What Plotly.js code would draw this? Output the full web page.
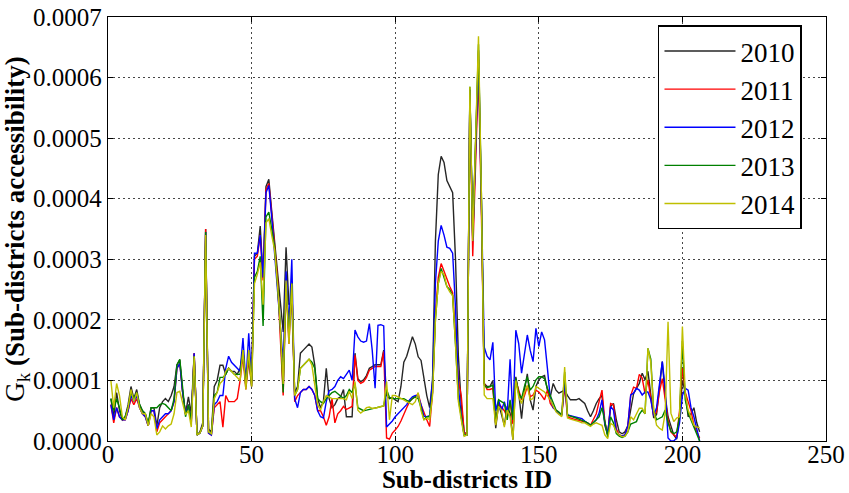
<!DOCTYPE html>
<html>
<head>
<meta charset="utf-8">
<script src="https://cdn.plot.ly/plotly-3.0.1.min.js"></script>
<style>
html,body{margin:0;padding:0;background:#fff;}
#chart{width:849px;height:493px;}
</style>
</head>
<body>
<div id="chart"></div>
<script>
// Sub-district IDs 1..206
const subDistrictIds = Array.from({length: 206}, (_, i) => i + 1);

// Values in units of 1e-5
const g2010 = [
  7, 4, 8, 5, 3.5, 4, 6, 9, 7, 8.5,
  6, 5, 4.5, 2.5, 5.5, 5.5, 2.5, 5.5, 6.5, 7,
  6.5, 7.5, 9, 12.6, 13.4, 8, 4.5, 7.3, 4.5, 14.5,
  1, 1.5, 3, 35, 2, 1.5, 9, 10, 12.5, 12.5,
  11, 12, 11.5, 11.5, 11, 12, 15, 9, 14, 9.5,
  30.5, 31, 35.5, 27, 42, 43.2, 38, 33, 29, 24,
  18, 32, 22.5, 23, 8, 9, 14.5, 15, 15.5, 16,
  15.5, 12.5, 7, 5.5, 6.5, 12, 7, 5.5, 6, 7,
  7.3, 8.5, 4, 4, 4, 14.5, 10.3, 9.8, 10.1, 10.8,
  12, 12.3, 12.6, 12.6, 12.6, 15, 7.5, 7, 7.2, 6.8,
  6.5, 9, 13, 14, 15.5, 17.2, 16, 13.9, 13.3, 10,
  7.5, 5.5, 10, 33, 44, 47, 46, 43, 42, 41,
  30, 14, 6, 1.5, 1, 58, 33.5, 50, 64.5, 40,
  9.5, 9, 9, 10, 2.1, 6.2, 4.3, 2.6, 5.7, 4.6,
  0.2, 10.6, 7.9, 3.7, 8.4, 11.1, 6.8, 5.1, 9, 10.1,
  10.6, 10.8, 8.4, 7.3, 9.5, 8.4, 7.9, 8.1, 8.4, 7.5,
  6.8, 6.8, 6.8, 7, 6.6, 6.2, 5, 4, 5, 6.2,
  7, 7.5, 2.6, 1, 5.7, 6.2, 3.5, 1.5, 1.2, 1.5,
  2.5, 5, 7.8, 8.7, 9.5, 11.2, 10.1, 11.5, 7.8, 3.8,
  4.4, 8.7, 13.1, 7.5, 4, 2.5, 1, 0.3, 4, 10,
  8, 4, 4.5, 5.5, 3, 1.5
];
const g2011 = [
  6, 3, 5.5, 4, 3.5, 3.5, 5, 7, 6, 7,
  5.5, 4.5, 4, 2.5, 5, 5, 1.5, 3, 3.5, 4,
  4.5, 5, 6.5, 12, 12.8, 8, 4.5, 6, 3, 14.5,
  1, 1.3, 2.5, 35, 1.3, 1, 5.5, 6, 6.5, 2.3,
  7.5, 6.5, 6.5, 6.5, 7, 10, 14, 8.5, 13.5, 9,
  30, 30.5, 34, 26.5, 41.5, 42.5, 37.5, 32, 27, 17,
  7.5, 26, 16, 26, 6.5, 7.5, 8, 8.5, 8.5, 9,
  8.5, 7.5, 5, 5, 4, 2.6, 4, 7, 3, 4.5,
  5, 5.7, 5.2, 5.5, 5.7, 14.2, 10, 9.5, 9.8, 10.5,
  11.7, 12, 12.3, 12.3, 12.3, 14.8, 0.5, 0.3, 1.3, 1.8,
  2.4, 3.3, 4.5, 5.5, 6.5, 7, 7.3, 7.8, 6, 4.6,
  3.5, 2.4, 8, 21, 27, 29.3, 28, 26.5, 25.5, 24.5,
  17, 10, 7.5, 1.5, 1, 57.5, 30.5, 47, 61, 38,
  9.5, 8.5, 8.5, 8.7, 2.8, 6.2, 5.5, 5, 4, 6.5,
  2.8, 10, 8.4, 6.8, 7.5, 9, 7.3, 7.6, 8.4, 8.1,
  7.5, 6.8, 8.4, 6.2, 5.5, 5.1, 4.6, 4.3, 9, 4,
  3.8, 3.6, 3.5, 3.4, 3.3, 3.2, 3, 2.6, 3.5, 4.5,
  6.5, 8.4, 3.2, 1, 6.2, 6, 2, 1, 0.8, 1,
  2.5, 7.5, 8.9, 8.7, 11, 10.4, 7.8, 10.1, 7, 4.2,
  4.8, 8.1, 10.3, 7, 3.5, 1.5, 1, 0.7, 5, 12,
  8, 6.5, 5, 2.6, 1.5, 0.5
];
const g2012 = [
  6, 3.5, 5.5, 4, 3.5, 3.5, 5, 7.5, 6.5, 7.5,
  5.5, 4.5, 4, 2.5, 5, 5, 2, 3.5, 4, 4.5,
  4.5, 5, 6.5, 12, 12.8, 8, 4.5, 6, 3, 14.5,
  1, 1.3, 2.5, 34.5, 1.3, 1, 6, 6.5, 7.5, 7.5,
  12, 14, 13, 12.5, 12, 11.5, 17, 9.5, 17.8, 10,
  31, 31, 34, 27, 41, 42.2, 37, 31, 25, 18,
  13, 28, 19, 30, 7, 5.5, 8, 8.5, 8.5, 9,
  8.5, 7.5, 5, 4, 3.8, 6.5, 8.3, 8.5, 9, 10,
  10.6, 10.3, 11, 11.7, 10, 18.3, 17.2, 16.5, 16.3, 16.5,
  19.4, 15, 8.7, 19.1, 19.2, 19, 2.3, 2.8, 3.3, 4,
  4.5, 5, 5.5, 6, 6.8, 7.3, 7.5, 7.4, 6, 4.1,
  4, 4.2, 10, 26, 33, 35.6, 34, 32, 31.8, 31,
  22, 9, 4, 1, 1, 58, 33, 50, 63, 40,
  15.5, 14, 13.4, 16.3, 5, 6.8, 5, 6.5, 4.6, 13.5,
  4, 18.3, 16.1, 11.2, 14, 17.5, 15, 13.1, 18.6, 15.6,
  18, 16.7, 12, 7, 5.5, 5, 4.5, 4.3, 9.8, 4.3,
  4.2, 4, 3.9, 3.8, 3.7, 3.3, 3, 2.6, 3, 3.5,
  4.6, 6.8, 2.9, 1.2, 5.7, 5.1, 1.5, 1, 0.8, 1,
  2.5, 7.6, 7.9, 8.7, 8.4, 7.6, 8.1, 8.1, 6.8, 4.2,
  5.5, 9.5, 13.1, 8.7, 0.5, 0, 0, 0.5, 3, 7.5,
  8.7, 8.4, 5.5, 4, 2, 0
];
const g2013 = [
  7, 5, 7, 5.5, 3.5, 4, 5.5, 8, 7, 8,
  6, 5, 4.5, 3, 5.5, 5.5, 5.5, 6, 6.2, 6,
  5.5, 5, 7, 12.5, 13.5, 9, 4, 6, 3.5, 14,
  1, 1.3, 2.5, 34.5, 1.5, 1.2, 7.5, 8, 10.5, 10.5,
  11, 12, 11.5, 11, 11, 11, 15, 9, 14.5, 9,
  27, 28, 30.5, 19, 37, 37.8, 35, 32, 26, 19,
  8, 26, 17, 26, 7.5, 8.5, 12, 12.5, 13, 13.5,
  13, 12, 7, 6.5, 6.2, 7, 7.5, 8, 8.2, 7.8,
  7.3, 7, 7.5, 8.5, 8, 9.5, 5.5, 5.2, 5, 5.1,
  5.2, 5.3, 5.4, 5.5, 5.6, 5.8, 8.5, 7.2, 7, 7,
  7, 7, 7, 6.7, 6.5, 7, 7.3, 7, 5.5, 3.5,
  4, 4, 8, 20, 26, 28.5, 27, 25.5, 25, 24,
  16, 7, 4, 1, 1, 58.5, 33.5, 51, 65.5, 41,
  9.2, 8.8, 9, 9.2, 2.8, 6.8, 6.5, 6.2, 3.5, 6.8,
  3.5, 10.3, 7.9, 7, 9, 10.6, 8.4, 9, 10.1, 10.6,
  10.6, 10.3, 8.7, 7.5, 6.5, 5.1, 4.8, 4.3, 11.4, 4.3,
  4.1, 4, 3.8, 3.6, 3.4, 3.2, 3, 2.6, 3, 3.5,
  4, 5.5, 3.2, 0.7, 4, 3, 1.2, 0.8, 0.6, 0.8,
  1.5, 2.8, 3, 3.2, 4.4, 5.1, 4.5, 15.3, 13.5, 5,
  3.5, 3.7, 4, 5.1, 3, 1.6, 1.2, 1.5, 4, 16.5,
  6.8, 4.6, 3.5, 2.5, 1.2, 0
];
const g2014 = [
  10, 5.5, 9.5, 7.5, 4, 3.5, 5.5, 8.5, 6.5, 8,
  5.5, 4.5, 4.5, 2.5, 4.5, 4, 1, 1.5, 2.5, 2,
  2.5, 2.8, 4.5, 8, 8.2, 6, 4.3, 5, 2.3, 14,
  1, 1.3, 2.5, 34, 1.5, 1.2, 7, 8, 9.5, 10,
  11.5, 12, 11.5, 11, 10.5, 10, 15, 8.5, 15, 9,
  26, 27.5, 29.5, 22.5, 36, 36.7, 34, 31.5, 26, 19,
  9.4, 26.5, 16, 26, 7.5, 8.5, 12, 12.5, 13, 13.5,
  12.5, 9.5, 6, 5.1, 6.5, 7.5, 7.3, 7, 7, 7,
  7, 7, 6.8, 8.2, 7, 9.8, 5.1, 4.6, 5, 5.5,
  5.6, 5.4, 5.4, 5.6, 5.7, 5.8, 9.8, 3.5, 7.5, 7.5,
  7.3, 7, 6.8, 6.5, 6.3, 6, 6.5, 8, 5, 3.5,
  3.8, 3.5, 7.5, 20, 26, 28, 27.5, 25.5, 24.6, 24,
  16, 6.5, 3.5, 0.8, 1, 58.5, 33, 51, 66.8, 41,
  7.6, 7, 7, 7, 2.6, 5.7, 5.1, 2.3, 5.1, 4,
  0.2, 10, 7.3, 6.2, 8, 9.2, 6.8, 7, 9, 8.7,
  8.4, 8.1, 7.5, 6.8, 5.8, 4.8, 4.4, 4, 12.2, 3.8,
  3.6, 3.5, 3.3, 3.2, 3, 3, 2.7, 2.4, 2.8, 3,
  2.8, 2.6, 1, 0.4, 2.9, 2.6, 1.5, 1, 0.7, 0.8,
  1.5, 4, 3.5, 4.5, 5.4, 5.4, 4.5, 15.3, 13, 5,
  2.6, 2.1, 1.8, 4.6, 19.7, 4.6, 3.2, 3.8, 4, 18.9,
  7.8, 5.1, 3.8, 2.6, 2.3, 2.2
];

const seriesNames = ["2010", "2011", "2012", "2013", "2014"];
const seriesValues = [g2010, g2011, g2012, g2013, g2014];
const seriesColors = ["#262626", "#ff0000", "#0000ff", "#008000", "#bfbf00"];
const unitScale = 1e-5;

const xTickVals = [0, 50, 100, 150, 200, 250];
const yTickVals = [0, 0.0001, 0.0002, 0.0003, 0.0004, 0.0005, 0.0006, 0.0007];

const traces = seriesNames.map((name, i) => ({
  type: "scatter",
  mode: "lines",
  name: name,
  legendgroup: name,
  x: subDistrictIds,
  y: seriesValues[i].map(v => v * unitScale),
  line: {color: seriesColors[i], width: 1.4}
}));

const serif = "Liberation Serif, DejaVu Serif, serif";

const axisCommon = {
  ticks: "inside",
  ticklen: 5,
  tickcolor: "#000",
  showline: true,
  linecolor: "#000",
  linewidth: 1.3,
  mirror: "ticks",
  showgrid: true,
  gridcolor: "#333",
  griddash: "2px,3px",
  gridwidth: 0.9,
  zeroline: false
};

const layout = {
  width: 849,
  height: 493,
  margin: {l: 108, r: 23, t: 17, b: 52},
  paper_bgcolor: "#ffffff",
  plot_bgcolor: "#ffffff",
  showlegend: true,
  font: {family: serif, color: "#000000"},
  xaxis: Object.assign({}, axisCommon, {
    range: [0, 250],
    tickvals: xTickVals,
    ticklabelposition: "outside",
    ticklabelstandoff: -9,
    tickfont: {family: serif, size: 25, color: "#000"},
    title: {text: "<b>Sub-districts ID</b>", font: {family: serif, size: 25, color: "#000"}, standoff: 15}
  }),
  yaxis: Object.assign({}, axisCommon, {
    range: [0, 0.0007],
    tickvals: yTickVals,
    tickformat: ".4f",
    tickfont: {family: serif, size: 25, color: "#000"},
    title: {text: "G<sub>k</sub> <b>(Sub-districts accessibility)</b>", font: {family: serif, size: 27, color: "#000"}, standoff: 4}
  }),
  legend: {
    x: 0.766,
    y: 0.98,
    xanchor: "left",
    yanchor: "top",
    bgcolor: "#ffffff",
    bordercolor: "#000",
    borderwidth: 1.5,
    font: {family: serif, size: 27, color: "#000"},
    tracegroupgap: 0,
    itemwidth: 71,
    entrywidth: 66,
    entrywidthmode: "pixels"
  }
};

Plotly.newPlot("chart", traces, layout, {displayModeBar: false, staticPlot: true});
</script>
</body>
</html>
